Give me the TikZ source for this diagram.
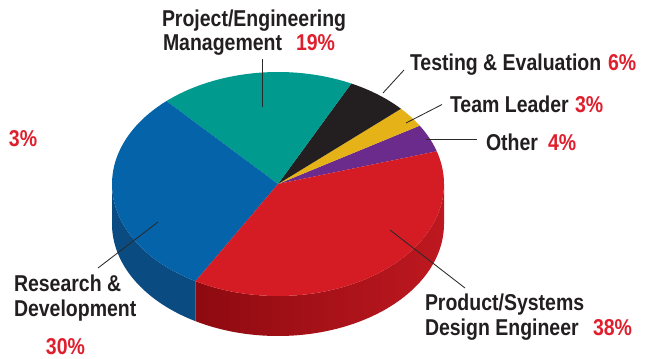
\documentclass[tikz,border=0pt]{standalone}
\usepackage{fontspec}
\newfontfamily\labfont{Liberation Sans}[FakeStretch=0.85]
\definecolor{cteal}{HTML}{009A8E}
\definecolor{cblack}{HTML}{231F20}
\definecolor{cyellow}{HTML}{E5B218}
\definecolor{cpurple}{HTML}{6A2B8C}
\definecolor{cred}{HTML}{D51B23}
\definecolor{cblue}{HTML}{0563A9}
\definecolor{cblueside}{HTML}{0A4C82}
\definecolor{credsideL}{HTML}{8E0A10}
\definecolor{credsideR}{HTML}{BE1820}
\definecolor{labtext}{HTML}{231F20}
\definecolor{pctred}{HTML}{E01F2E}
\definecolor{leadc}{HTML}{2A2A2A}
\begin{document}
\begin{tikzpicture}[x=0.025cm,y=-0.025cm,
  lab/.style={anchor=base west, inner sep=0pt, outer sep=0pt,
    font=\labfont\bfseries\fontsize{16.3}{17}\selectfont, text=labtext},
  pct/.style={lab, text=pctred},
  leader/.style={draw=leadc, line width=0.6pt}]
\useasboundingbox (0,0) rectangle (645,358);
\fill[white] (0,0) rectangle (645,358);
\coordinate (ctr) at (278,184);
% sides
\fill[cblueside] plot[domain=180:240.2, samples=40] ({278+166*cos(\x)},{184-112*sin(\x)})
  -- plot[domain=240.2:180, samples=40] ({278+166*cos(\x)},{224-112*sin(\x)}) -- cycle;
\shade[left color=credsideL, right color=credsideR]
  plot[domain=240.2:360, samples=60] ({278+166*cos(\x)},{184-112*sin(\x)})
  -- plot[domain=360:240.2, samples=60] ({278+166*cos(\x)},{224-112*sin(\x)}) -- cycle;
% top sectors
\fill[cpurple] (ctr) -- plot[domain=17:31.4, samples=20] ({278+166*cos(\x)},{184-112*sin(\x)}) -- cycle;
\fill[cyellow] (ctr) -- plot[domain=31.4:42.2, samples=20] ({278+166*cos(\x)},{184-112*sin(\x)}) -- cycle;
\fill[cblack] (ctr) -- plot[domain=42.2:63.8, samples=20] ({278+166*cos(\x)},{184-112*sin(\x)}) -- cycle;
\fill[cteal] (ctr) -- plot[domain=63.8:132.2, samples=50] ({278+166*cos(\x)},{184-112*sin(\x)}) -- cycle;
\fill[cblue] (ctr) -- plot[domain=132.2:240.2, samples=60] ({278+166*cos(\x)},{184-112*sin(\x)}) -- cycle;
\fill[cred] (ctr) -- plot[domain=240.2:377, samples=80] ({278+166*cos(\x)},{184-112*sin(\x)}) -- cycle;
% labels
\node[lab] (pe1) at (162,26.7) {Project/Engineering};
\node[lab] (pe2) at (163,50) {Management};
\node[pct] (pe3) at (296,50) {19\%};
\node[lab] (te1) at (410,70) {Testing \& Evaluation};
\node[pct] (te2) at (608,70) {6\%};
\node[lab] (tl1) at (450,112.7) {Team Leader};
\node[pct] (tl2) at (575,112.7) {3\%};
\node[lab] (ot1) at (486,150) {Other};
\node[pct] (ot2) at (548,150) {4\%};
\node[pct] (lone) at (9,146) {3\%};
\node[lab] (rd1) at (14,291.7) {Research \&};
\node[lab] (rd2) at (14,316.7) {Development};
\node[pct] (rd3) at (46,354) {30\%};
\node[lab] (ps1) at (425,310) {Product/Systems};
\node[lab] (ps2) at (425,335) {Design Engineer};
\node[pct] (ps3) at (593,335) {38\%};
% leader lines
\coordinate (lpeA) at (262.5,107);
\coordinate (lpeB) at (262.5,59);
\coordinate (lteA) at (383,93);
\coordinate (lteB) at (404,70);
\coordinate (ltlA) at (406,123);
\coordinate (ltlB) at (442,104.5);
\coordinate (lotA) at (426,139);
\coordinate (lotB) at (477,139);
\coordinate (lrdA) at (158,222);
\coordinate (lrdB) at (98,268);
\coordinate (lpsA) at (390,230);
\coordinate (lpsB) at (465,288);
\draw[leader] (lpeA) -- (lpeB);
\draw[leader] (lteA) -- (lteB);
\draw[leader] (ltlA) -- (ltlB);
\draw[leader] (lotA) -- (lotB);
\draw[leader] (lrdA) -- (lrdB);
\draw[leader] (lpsA) -- (lpsB);
\end{tikzpicture}
\end{document}
